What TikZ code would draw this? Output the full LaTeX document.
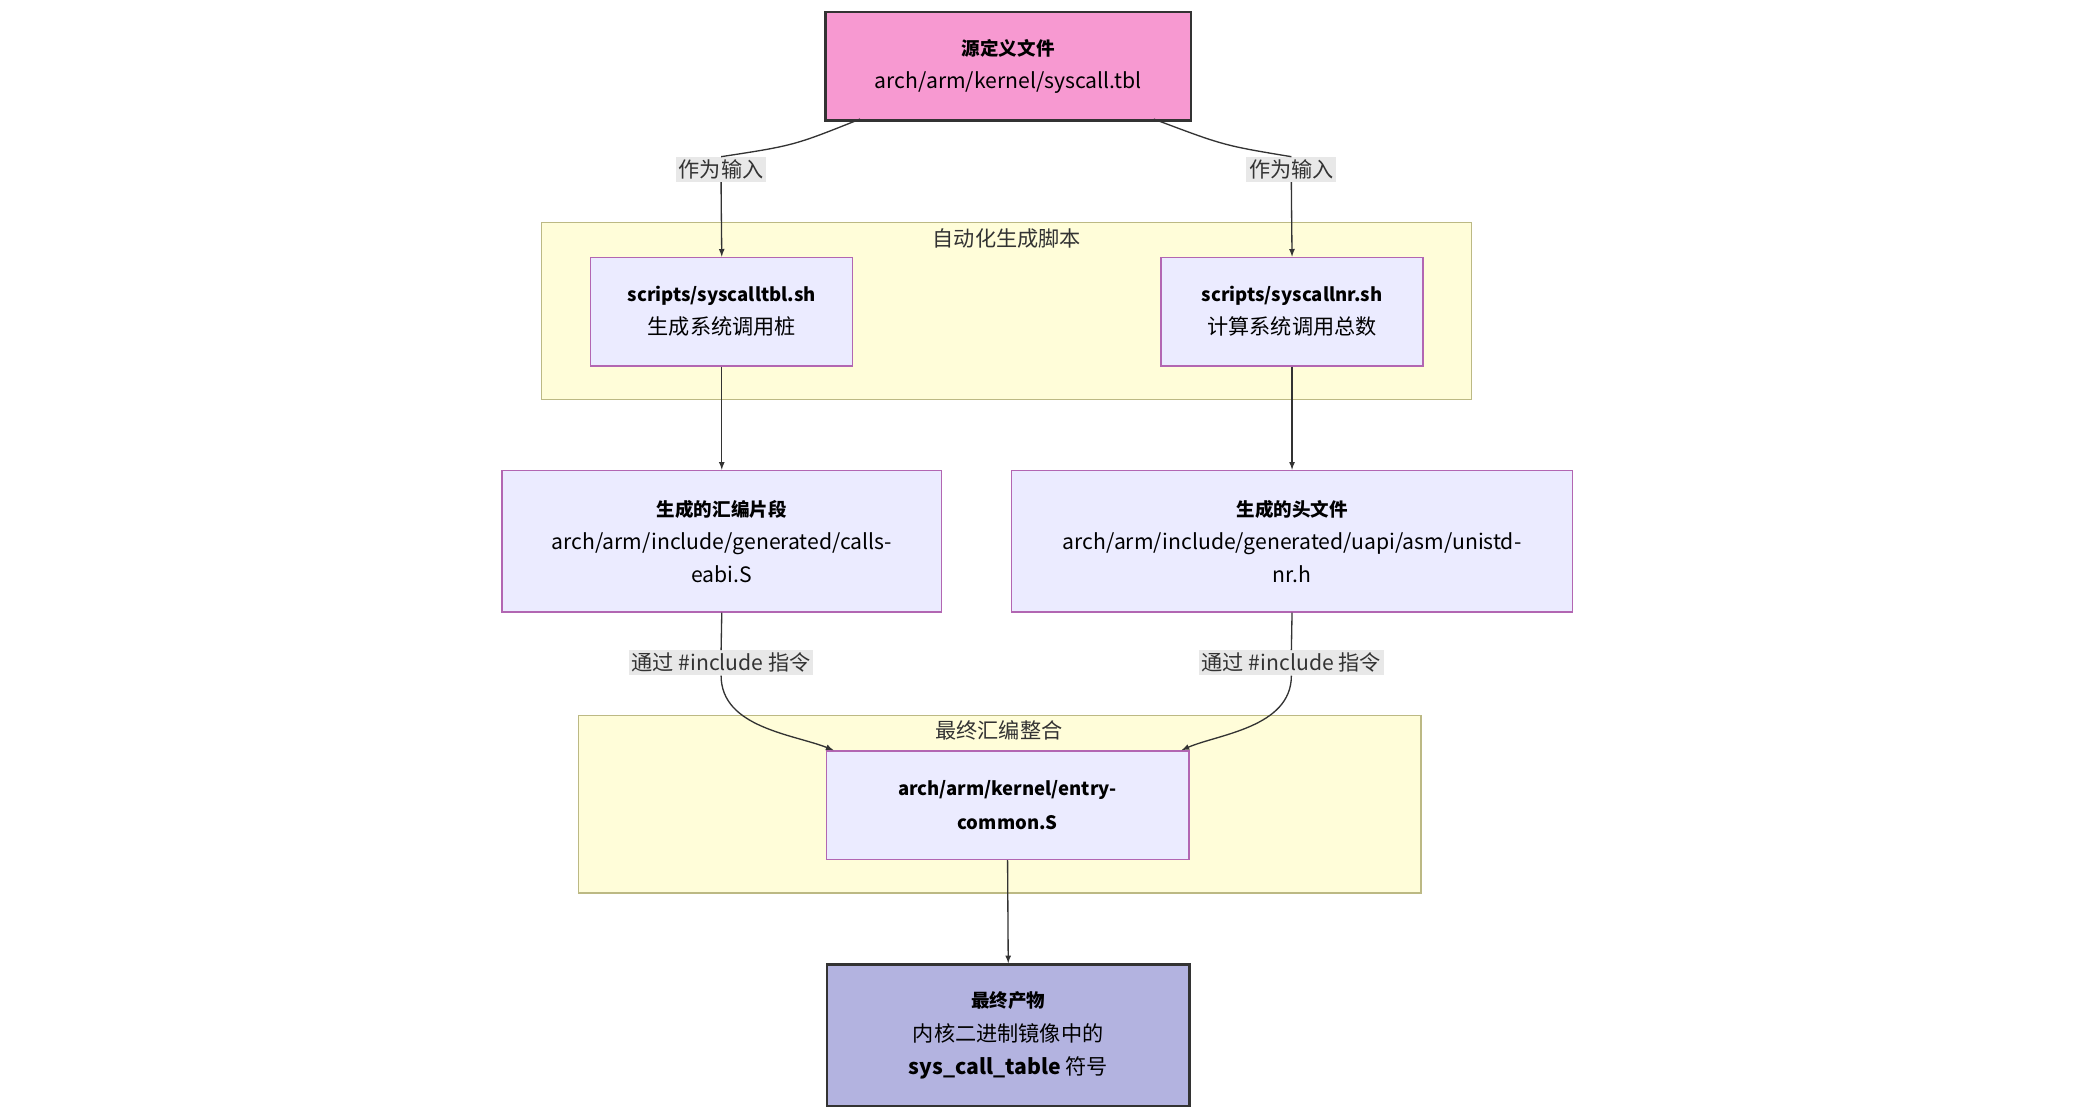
\documentclass[tikz,border=0pt]{standalone}
\usepackage{fontspec}
\setmainfont{Noto Sans CJK SC}
\begin{document}
\begin{tikzpicture}[x=1pt,y=-1pt,
  box/.style={draw=#1,align=center,inner sep=0pt,font=\fontsize{16}{25}\selectfont},
  pbox/.style={draw=purple!40!blue!50!white,line width=1pt,fill=blue!8!white,box=,draw=violet!60!white},
  sub/.style={draw=yellow!50!black!60!white,fill=yellow!15!white,line width=1pt},
  lab/.style={fill=gray!18,inner sep=2pt,font=\fontsize{16}{20}\selectfont,text=black!80},
  arr/.style={draw=black!80,line width=1pt,-latex},
  tt/.style={font=\bfseries\fontsize{14}{25}\selectfont}]
\useasboundingbox (0,0) rectangle (1569,845);
\fill[white] (0,0) rectangle (1569,845);
\draw[sub] (409,168) rectangle (1112,302);
\node[font=\fontsize{16}{20}\selectfont,text=black!80] (s1) at (761,180) {自动化生成脚本};
\draw[sub] (437,541) rectangle (1074,675);
\node[font=\fontsize{16}{20}\selectfont,text=black!80] (s2) at (755,552) {最终汇编整合};
\node[draw=black!80,line width=2pt,fill=magenta!40,minimum width=276pt,minimum height=82pt,align=center,font=\fontsize{16}{25}\selectfont,anchor=north west] (src) at (623,8) {{\bfseries\fontsize{14}{25}\selectfont 源定义文件}\\arch/arm/kernel/syscall.tbl};
\node[draw=violet!60,line width=1pt,fill=blue!8,minimum width=198pt,minimum height=82pt,align=center,font=\fontsize{16}{25}\selectfont,anchor=north west] (a) at (446,194) {{\bfseries\fontsize{14}{25}\selectfont scripts/syscalltbl.sh}\\生成系统调用桩};
\node[draw=violet!60,line width=1pt,fill=blue!8,minimum width=198pt,minimum height=82pt,align=center,font=\fontsize{16}{25}\selectfont,anchor=north west] (b) at (877,194) {{\bfseries\fontsize{14}{25}\selectfont scripts/syscallnr.sh}\\计算系统调用总数};
\node[draw=violet!60,line width=1pt,fill=blue!8,minimum width=332pt,minimum height=107pt,align=center,font=\fontsize{16}{25}\selectfont,anchor=north west] (c) at (379,355) {{\bfseries\fontsize{14}{25}\selectfont 生成的汇编片段}\\arch/arm/include/generated/calls-\\eabi.S};
\node[draw=violet!60,line width=1pt,fill=blue!8,minimum width=424pt,minimum height=107pt,align=center,font=\fontsize{16}{25}\selectfont,anchor=north west] (d) at (764,355) {{\bfseries\fontsize{14}{25}\selectfont 生成的头文件}\\arch/arm/include/generated/uapi/asm/unistd-\\nr.h};
\node[draw=violet!60,line width=1pt,fill=blue!8,minimum width=274pt,minimum height=82pt,align=center,font=\bfseries\fontsize{14}{25}\selectfont,anchor=north west] (e) at (624,567) {arch/arm/kernel/entry-\\common.S};
\node[draw=black!80,line width=2pt,fill=cyan!20!blue!30!white,minimum width=274pt,minimum height=107pt,align=center,font=\fontsize{16}{25}\selectfont,anchor=north west] (f) at (624,728) {{\bfseries\fontsize{14}{25}\selectfont 最终产物}\\内核二进制镜像中的\\{\bfseries sys\_call\_table} 符号};
\node[lab] (l1) at (545,128) {作为输入};
\node[lab] (l2) at (976,128) {作为输入};
\node[lab] (l3) at (545,501) {通过 \#include 指令};
\node[lab] (l4) at (976,501) {通过 \#include 指令};
\draw[draw=black!80,line width=1pt] (650,90) .. controls (600,110) .. (l1.north);
\draw[arr] (l1.south) .. controls (545,145) .. (a.north);
\draw[draw=black!80,line width=1pt] (872,90) .. controls (925,110) .. (l2.north);
\draw[arr] (l2.south) .. controls (976,145) .. (b.north);
\draw[arr] (a.south) -- (c.north);
\draw[arr] (b.south) -- (d.north);
\draw[draw=black!80,line width=1pt] (c.south) -- (l3.north);
\draw[arr] (l3.south) .. controls (545,550) and (600,555) .. (630,567);
\draw[draw=black!80,line width=1pt] (d.south) -- (l4.north);
\draw[arr] (l4.south) .. controls (976,550) and (920,555) .. (893,567);
\draw[arr] (e.south) -- (f.north);
\end{tikzpicture}
\end{document}
